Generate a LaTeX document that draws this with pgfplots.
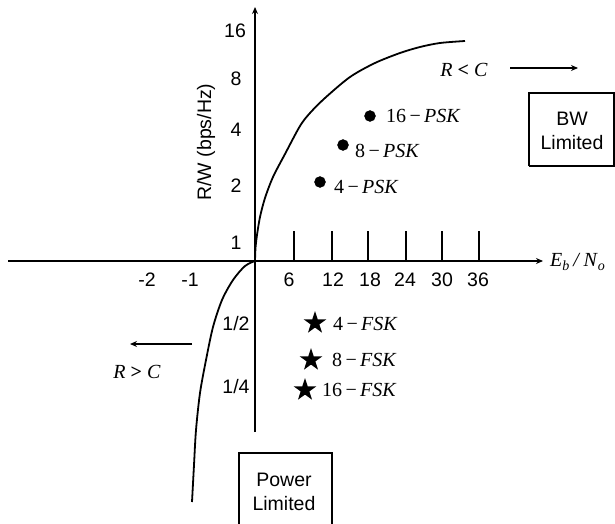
\documentclass[border=0pt]{standalone}
\usepackage{pgfplots}
\pgfplotsset{compat=1.18}
\usetikzlibrary{arrows.meta}
\usepackage{fontspec}
\setmainfont{Liberation Sans}
\newfontfamily\tms{Liberation Serif}
\newcommand\sfs{\fontsize{19.5bp}{24bp}\selectfont}
\newcommand\tmf{\tms\fontsize{20bp}{22bp}\selectfont}
\pgfdeclareplotmark{fstar}{%
 \pgfpathmoveto{\pgfpointpolar{90}{\pgfplotmarksize}}%
 \pgfpathlineto{\pgfpointpolar{126}{0.382\pgfplotmarksize}}%
 \pgfpathlineto{\pgfpointpolar{162}{\pgfplotmarksize}}%
 \pgfpathlineto{\pgfpointpolar{198}{0.382\pgfplotmarksize}}%
 \pgfpathlineto{\pgfpointpolar{234}{\pgfplotmarksize}}%
 \pgfpathlineto{\pgfpointpolar{270}{0.382\pgfplotmarksize}}%
 \pgfpathlineto{\pgfpointpolar{306}{\pgfplotmarksize}}%
 \pgfpathlineto{\pgfpointpolar{342}{0.382\pgfplotmarksize}}%
 \pgfpathlineto{\pgfpointpolar{18}{\pgfplotmarksize}}%
 \pgfpathlineto{\pgfpointpolar{54}{0.382\pgfplotmarksize}}%
 \pgfpathclose\pgfusepathqfill}
\begin{document}
\begin{tikzpicture}
\useasboundingbox (0,0) rectangle (615bp,524bp);
\clip (0,0) rectangle (615bp,524bp);
\begin{axis}[scale only axis, width=615bp, height=524bp,
  xmin=0, xmax=615, ymin=0, ymax=524, y dir=reverse,
  hide axis, clip=false]
% axes
\addplot[black, line width=1.8bp, -{Stealth[length=7bp,width=6bp]}] coordinates {(8,261) (543,261)};
\addplot[black, line width=1.8bp, -{Stealth[length=7bp,width=6bp]}] coordinates {(255,432) (255,7)};
% ticks on Eb/No axis
\addplot[black, line width=1.3bp] coordinates {(294,231) (294,261)};
\addplot[black, line width=1.3bp] coordinates {(332,231) (332,261)};
\addplot[black, line width=1.3bp] coordinates {(368,231) (368,261)};
\addplot[black, line width=1.3bp] coordinates {(406,231) (406,261)};
\addplot[black, line width=1.3bp] coordinates {(442,231) (442,261)};
\addplot[black, line width=1.3bp] coordinates {(479,231) (479,261)};
% Shannon limit curves
\addplot[black, line width=1.8bp, smooth] coordinates {(255,261) (255.5,248) (257,235) (260,217) (265,198) (273,177) (285,154) (300,126) (310,113) (325,98) (350,77) (375,63) (400,53) (420,47) (440,43) (465,41)};
\addplot[black, line width=1.8bp, smooth] coordinates {(255,261) (245,266) (233,280) (222,300) (213,327) (206,360) (200,393) (196,430) (194,465) (192,502)};
% PSK points
\addplot[only marks, mark=*, mark size=5.5bp, black] coordinates {(370,116) (343,145) (320,182)};
% FSK points
\addplot[only marks, mark=fstar, mark size=12bp, black] coordinates {(315,323) (311,360) (305,390)};
% arrows
\addplot[black, line width=1.6bp, -{Stealth[length=7bp,width=6bp]}] coordinates {(510,68) (578,68)};
\addplot[black, line width=1.6bp, -{Stealth[length=7bp,width=6bp]}] coordinates {(192,344) (130,344)};
% boxes
\addplot[black, line width=1.8bp] coordinates {(529,166) (529,93) (614,93) (614,166) (529,166)};
\addplot[black, line width=1.8bp] coordinates {(239,540) (239,453) (332,453) (332,540)};
% y tick labels
\node[inner sep=0pt] at (axis cs:235,31) {\sfs 16};
\node[inner sep=0pt] at (axis cs:236,79) {\sfs 8};
\node[inner sep=0pt] at (axis cs:236,130) {\sfs 4};
\node[inner sep=0pt] at (axis cs:236,186) {\sfs 2};
\node[inner sep=0pt] at (axis cs:236,243) {\sfs 1};
\node[inner sep=0pt] at (axis cs:236,324) {\sfs 1/2};
\node[inner sep=0pt] at (axis cs:236,387) {\sfs 1/4};
% x tick labels
\node[inner sep=0pt] at (axis cs:147,280) {\sfs -2};
\node[inner sep=0pt] at (axis cs:190,280) {\sfs -1};
\node[inner sep=0pt] at (axis cs:289,280) {\sfs 6};
\node[inner sep=0pt] at (axis cs:333,280) {\sfs 12};
\node[inner sep=0pt] at (axis cs:370,280) {\sfs 18};
\node[inner sep=0pt] at (axis cs:405,280) {\sfs 24};
\node[inner sep=0pt] at (axis cs:442,280) {\sfs 30};
\node[inner sep=0pt] at (axis cs:478,280) {\sfs 36};
% axis label
\node[inner sep=0pt, rotate=90] at (axis cs:206,142) {\sfs R/W (bps/Hz)};
\node[inner sep=0pt, anchor=west] at (axis cs:550,262) {\tmf\textit{E}\textsubscript{\textit{b}}\,\textit{/}\,\textit{N}\textsubscript{\textit{o}}};
% point labels
\node[inner sep=0pt, anchor=west] at (axis cs:386,116) {\tmf 16\,−\,\textit{PSK}};
\node[inner sep=0pt, anchor=west] at (axis cs:355,151) {\tmf 8\,−\,\textit{PSK}};
\node[inner sep=0pt, anchor=west] at (axis cs:334,187) {\tmf 4\,−\,\textit{PSK}};
\node[inner sep=0pt, anchor=west] at (axis cs:333,324) {\tmf 4\,−\,\textit{FSK}};
\node[inner sep=0pt, anchor=west] at (axis cs:332,360) {\tmf 8\,−\,\textit{FSK}};
\node[inner sep=0pt, anchor=west] at (axis cs:322,390) {\tmf 16\,−\,\textit{FSK}};
% region labels
\node[inner sep=0pt] at (axis cs:464,70) {\tmf\textit{R} \textbf{<} \textit{C}};
\node[inner sep=0pt] at (axis cs:137,372) {\tmf\textit{R} \textbf{>} \textit{C}};
\node[inner sep=0pt, align=center, font=\sfs] at (axis cs:572,131) {BW\\Limited};
\node[inner sep=0pt, align=center, font=\sfs] at (axis cs:284,492) {Power\\Limited};
\end{axis}
\end{tikzpicture}
\end{document}
